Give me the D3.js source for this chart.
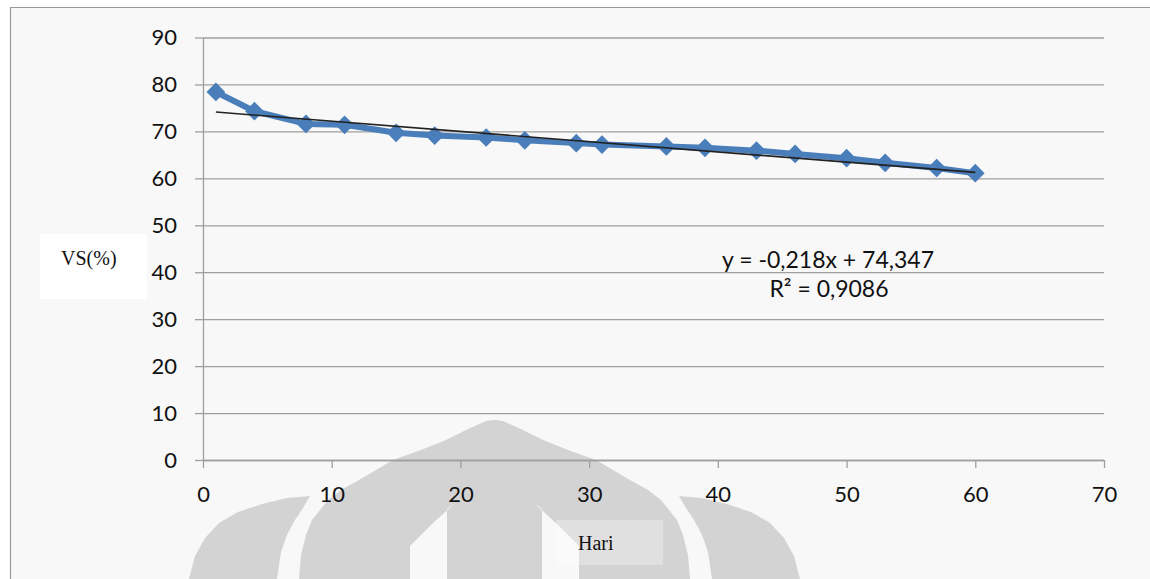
<!DOCTYPE html>
<html>
<head>
<meta charset="utf-8">
<script src="https://cdn.jsdelivr.net/npm/d3@7"></script>
<style>
  html, body { margin: 0; padding: 0; background: #ffffff; }
  svg { display: block; }
</style>
</head>
<body>
<svg id="chart" width="1150" height="579"></svg>
<script>
// Volatile solids over time
const days   = [1, 4, 8, 11, 15, 18, 22, 25, 29, 31, 36, 39, 43, 46, 50, 53, 57, 60];
const vsPct  = [78.4, 74.3, 71.6, 71.4, 69.7, 69.1, 68.7, 68.1, 67.5, 67.2, 66.8, 66.5, 65.9, 65.2, 64.3, 63.3, 62.2, 61.1];
const xTicks = [0, 10, 20, 30, 40, 50, 60, 70];
const yTicks = [0, 10, 20, 30, 40, 50, 60, 70, 80, 90];

// Linear trend as reported
const trendSlope = -0.218;
const trendIntercept = 74.347;
const trendLabel = "y = -0,218x + 74,347";
const r2Label = "R² = 0,9086";

const xTitle = "Hari";
const yTitle = "VS(%)";

const svg = d3.select("#chart");
const W = 1150, H = 579;

const x = d3.scaleLinear().domain([0, 70]).range([203, 1104]);
const y = d3.scaleLinear().domain([0, 90]).range([460, 37.5]);

const tickFont = "Lato, 'Open Sans', sans-serif";
const serifFont = "'Liberation Serif', 'DejaVu Serif', serif";
const gridColor = "#9f9f9f";
const seriesColor = "#4a7ebb";

// chart area background and frame
svg.append("rect").attr("x", 10).attr("y", 7).attr("width", W - 10).attr("height", H - 7)
  .attr("fill", "#f8f8f8");
svg.append("path").attr("d", `M10.5,${H} V7.5 H${W}`)
  .attr("fill", "none").attr("stroke", "#9a9a9a").attr("stroke-width", 1.2);

// faint emblem in the background
const wm = svg.append("g").attr("class", "emblem");
const cx = 494.5;
const mirror = pts => pts.concat(pts.slice().reverse().map(([px, py]) => [2 * cx - px, py]));
const archHalf = [[299, 579], [301, 555], [306, 535], [312, 520], [320, 510], [328, 500], [341, 490],
                  [359, 480], [376, 470], [393, 460], [421, 450], [446, 440], [466, 430], [486, 421], [493, 420]];
const sideLeft = [[189, 579], [195, 556], [205, 538], [219, 523], [238, 512], [262, 504], [287, 498],
                  [310, 496], [303, 508], [295, 520], [287, 535], [281, 552], [277, 579]];
const gapLeft  = [[455, 503], [432, 524], [410, 546], [410, 579], [447, 579], [447, 509]];
const poly = d3.line().curve(d3.curveLinearClosed);
const wmColor = "#d3d3d3";
wm.append("path").attr("d", poly(mirror(archHalf))).attr("fill", wmColor);
wm.append("path").attr("d", poly(sideLeft)).attr("fill", wmColor);
wm.append("path").attr("d", poly(sideLeft.map(([px, py]) => [2 * cx - px, py]))).attr("fill", wmColor);
wm.append("path").attr("d", poly(gapLeft)).attr("fill", "#f8f8f8");
wm.append("path").attr("d", poly(gapLeft.map(([px, py]) => [2 * cx - px, py]))).attr("fill", "#f8f8f8");

// gridlines
svg.append("g")
  .attr("transform", `translate(${x(0)},0)`)
  .call(d3.axisLeft(y).tickValues(yTicks).tickSize(-(x(70) - x(0))).tickFormat(""))
  .call(g => g.select(".domain").remove())
  .call(g => g.selectAll("line").attr("stroke", gridColor).attr("stroke-width", 1.3));

// y axis
const yAxis = svg.append("g")
  .attr("transform", `translate(${x(0)},0)`)
  .call(d3.axisLeft(y).tickValues(yTicks).tickSize(8).tickSizeOuter(0).tickPadding(18));
yAxis.select(".domain").attr("stroke", gridColor).attr("stroke-width", 1.3);
yAxis.selectAll("line").attr("stroke", gridColor).attr("stroke-width", 1.3);
yAxis.selectAll("text").attr("font-family", tickFont).attr("font-size", 22).attr("fill", "#111");

// x axis
const xAxis = svg.append("g")
  .attr("transform", `translate(0,${y(0)})`)
  .call(d3.axisBottom(x).tickValues(xTicks).tickSize(8).tickSizeOuter(0).tickPadding(18));
xAxis.select(".domain").attr("stroke", gridColor).attr("stroke-width", 1.3);
xAxis.selectAll("line").attr("stroke", gridColor).attr("stroke-width", 1.3);
xAxis.selectAll("text").attr("font-family", tickFont).attr("font-size", 22).attr("fill", "#111");

// data series
const pts = days.map((d, i) => [d, vsPct[i]]);
svg.append("path")
  .datum(pts)
  .attr("d", d3.line().x(d => x(d[0])).y(d => y(d[1])))
  .attr("fill", "none").attr("stroke", seriesColor).attr("stroke-width", 6)
  .attr("stroke-linejoin", "round");

const diamond = d3.symbol().type(d3.symbolSquare).size(175);
svg.append("g").selectAll("path")
  .data(pts)
  .join("path")
  .attr("d", diamond)
  .attr("transform", d => `translate(${x(d[0])},${y(d[1])}) rotate(45)`)
  .attr("fill", seriesColor);

// trend line
const tx = [days[0], days[days.length - 1]];
svg.append("line")
  .attr("x1", x(tx[0])).attr("y1", y(trendSlope * tx[0] + trendIntercept))
  .attr("x2", x(tx[1])).attr("y2", y(trendSlope * tx[1] + trendIntercept))
  .attr("stroke", "#222").attr("stroke-width", 1.6);

// trend equation
svg.append("text").attr("x", 828).attr("y", 268).attr("text-anchor", "middle")
  .attr("font-family", tickFont).attr("font-size", 23).attr("fill", "#111").text(trendLabel);
svg.append("text").attr("x", 829).attr("y", 297).attr("text-anchor", "middle")
  .attr("font-family", tickFont).attr("font-size", 23).attr("fill", "#111").text(r2Label);

// axis titles
svg.append("rect").attr("x", 40).attr("y", 234).attr("width", 107).attr("height", 65).attr("fill", "#ffffff");
svg.append("text").attr("x", 61).attr("y", 265)
  .attr("font-family", serifFont).attr("font-size", 20).attr("fill", "#111").text(yTitle);

svg.append("rect").attr("x", 556).attr("y", 520).attr("width", 107).attr("height", 45)
  .attr("fill", "#ffffff").attr("fill-opacity", 0.3);
svg.append("text").attr("x", 578).attr("y", 550)
  .attr("font-family", serifFont).attr("font-size", 20).attr("fill", "#111").text(xTitle);
</script>
</body>
</html>
